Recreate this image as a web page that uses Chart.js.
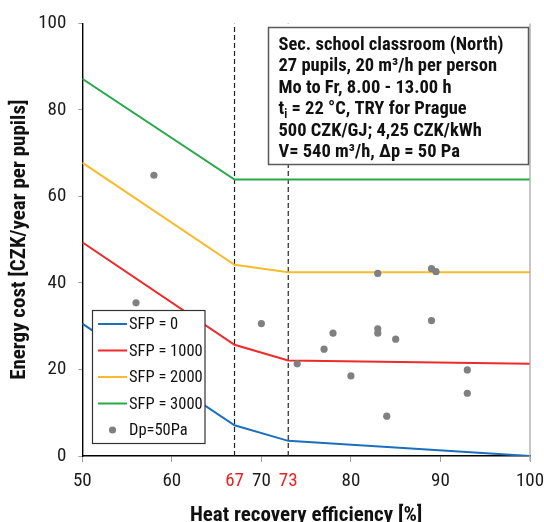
<!DOCTYPE html>
<html>
<head>
<meta charset="utf-8">
<script src="https://cdn.jsdelivr.net/npm/chart.js@4/dist/chart.umd.min.js"></script>
<style>
html,body{margin:0;padding:0;overflow:hidden;background:#fff;width:544px;height:522px;}
#wrap{position:absolute;left:0;top:0;width:570px;height:540px;}
canvas{display:block;}
</style>
</head>
<body>
<div id="wrap"><canvas id="c" width="570" height="540"></canvas></div>
<script>
// ---- data ----
const efficiency = [50, 67, 73, 100];
const sfp0    = [30.6, 7.1, 3.5, 0];
const sfp1000 = [49.4, 25.7, 22.1, 21.3];
const sfp2000 = [67.8, 44.2, 42.5, 42.5];
const sfp3000 = [87.2, 63.9, 63.9, 63.9];
const unitEff  = [56, 58, 70, 74, 77, 78, 80, 83, 83, 83, 84, 85, 89, 89, 89.5, 93, 93];
const unitCost = [35.4, 64.9, 30.6, 21.3, 24.7, 28.4, 18.5, 42.2, 29.4, 28.4, 9.2, 27.0, 43.3, 31.3, 42.6, 19.9, 14.5];
const markerEff = [67, 73];
const xTickValues = [50, 60, 67, 70, 73, 80, 90, 100];
const seriesLabels = ['SFP = 0', 'SFP = 1000', 'SFP = 2000', 'SFP = 3000', 'Dp=50Pa'];
const xTitle = 'Heat recovery efficiency [%]';
const yTitle = 'Energy cost [CZK/year per pupils]';
const infoLines = [
  [{t:'Sec. school classroom (North)'}],
  [{t:'27 pupils, 20 m³/h per person'}],
  [{t:'Mo to Fr, 8.00 - 13.00 h'}],
  [{t:'t'}, {t:'i', sub:true}, {t:' = 22 °C, TRY for Prague'}],
  [{t:'500 CZK/GJ; 4,25 CZK/kWh'}],
  [{t:'V= 540 m³/h, Δp = 50 Pa'}]
];

// ---- styles ----
const FONT = "'Roboto Condensed', 'Open Sans Condensed', 'Liberation Sans', sans-serif";
const colors = ['#1c6fbd', '#ee2a2a', '#f8bb2c', '#27a84a'];
const pointColor = '#808080';

const pts = (xs, ys) => xs.map((x, i) => ({x: x, y: ys[i]}));

const lineSeries = [sfp0, sfp1000, sfp2000, sfp3000];
const datasets = [];
datasets.push({
  label: seriesLabels[4], data: pts(unitEff, unitCost), showLine: false,
  pointRadius: 3.6, pointBackgroundColor: pointColor, pointBorderWidth: 0, order: 0, kind: 'points'
});
lineSeries.forEach((s, i) => datasets.push({
  label: seriesLabels[i], data: pts(efficiency, s), showLine: true, borderColor: colors[i],
  backgroundColor: colors[i], borderWidth: 2, pointRadius: 0, tension: 0, order: 1, kind: 'line'
}));
markerEff.forEach(m => datasets.push({
  label: '', data: [{x: m, y: 0}, {x: m, y: 100}], showLine: true, borderColor: '#222',
  borderWidth: 1.2, borderDash: [5, 3], pointRadius: 0, order: 2, kind: 'marker'
}));

const overlay = {
  id: 'overlay',
  afterDatasetsDraw(chart) {
    const {ctx, chartArea: a} = chart;
    ctx.save();
    // right frame line
    ctx.strokeStyle = '#a8a8a8'; ctx.lineWidth = 1.3;
    ctx.beginPath(); ctx.moveTo(a.right, a.top); ctx.lineTo(a.right, a.bottom + 5); ctx.stroke();

    // info box
    const bx = 268.5, by = 27.5, bw = 260, bh = 137;
    ctx.fillStyle = '#fff'; ctx.fillRect(bx, by, bw, bh);
    ctx.strokeStyle = '#5a5a5a'; ctx.lineWidth = 1.5; ctx.strokeRect(bx, by, bw, bh);
    ctx.fillStyle = '#111'; ctx.textBaseline = 'alphabetic'; ctx.textAlign = 'left';
    infoLines.forEach((line, i) => {
      let x = 278.5; const y = 50 + i * 21.4;
      line.forEach(seg => {
        if (seg.sub) {
          ctx.font = "bold 12px " + FONT;
          ctx.fillText(seg.t, x, y + 4);
        } else {
          ctx.font = "bold 18.5px " + FONT;
          ctx.fillText(seg.t, x, y);
        }
        x += ctx.measureText(seg.t).width;
      });
    });

    // legend
    const lx = 92.5, ly = 310.5, lw = 112.5, lh = 133;
    ctx.fillStyle = '#fff'; ctx.fillRect(lx, ly, lw, lh);
    ctx.strokeStyle = '#333'; ctx.lineWidth = 1.2; ctx.strokeRect(lx, ly, lw, lh);
    ctx.font = "16.5px " + FONT; ctx.textBaseline = 'middle';
    const entries = chart.data.datasets.filter(d => d.kind === 'line').concat(chart.data.datasets.filter(d => d.kind === 'points'));
    entries.forEach((d, i) => {
      const cy = 324 + i * 26.5;
      if (d.kind === 'line') {
        ctx.strokeStyle = d.borderColor; ctx.lineWidth = 2;
        ctx.beginPath(); ctx.moveTo(98, cy); ctx.lineTo(127, cy); ctx.stroke();
      } else {
        ctx.fillStyle = d.pointBackgroundColor;
        ctx.beginPath(); ctx.arc(112.5, cy, 3.6, 0, Math.PI * 2); ctx.fill();
      }
      ctx.fillStyle = '#111';
      ctx.fillText(d.label, 129, cy + 1);
    });
    ctx.restore();
  }
};

new Chart(document.getElementById('c'), {
  type: 'scatter',
  data: {datasets: datasets},
  options: {
    responsive: false, animation: false, devicePixelRatio: 1,
    layout: {padding: {top: 17.7, right: 40, bottom: 0, left: 0}},
    plugins: {legend: {display: false}, tooltip: {enabled: false}},
    scales: {
      x: {
        type: 'linear', min: 50, max: 100,
        afterBuildTicks: s => { s.ticks = xTickValues.map(v => ({value: v})); },
        afterFit: s => { s.height = 84; },
        ticks: {
          font: {size: 19, family: FONT}, padding: 8, maxRotation: 0, autoSkip: false,
          color: c => markerEff.includes(c.tick.value) ? '#ee2222' : '#1a1a1a'
        },
        grid: {drawOnChartArea: false, tickLength: 6,
          color: c => (c.tick && markerEff.includes(c.tick.value)) ? 'rgba(0,0,0,0)' : '#a0a0a0'},
        border: {color: '#000', width: 1.4},
        title: {display: true, text: xTitle, color: '#111', font: {size: 21, weight: 'bold', family: FONT}, padding: {top: 0, bottom: 12}}
      },
      y: {
        min: 0, max: 100,
        afterFit: s => { s.width = 82.3; },
        ticks: {stepSize: 20, font: {size: 19, family: FONT}, padding: 12, color: '#1a1a1a'},
        grid: {drawOnChartArea: false, tickLength: 4, color: '#a0a0a0'},
        border: {color: '#000', width: 1.4},
        title: {display: true, text: yTitle, color: '#111', font: {size: 21, weight: 'bold', family: FONT}, padding: {top: 7, bottom: 0}}
      }
    }
  },
  plugins: [overlay]
});
</script>
</body>
</html>
